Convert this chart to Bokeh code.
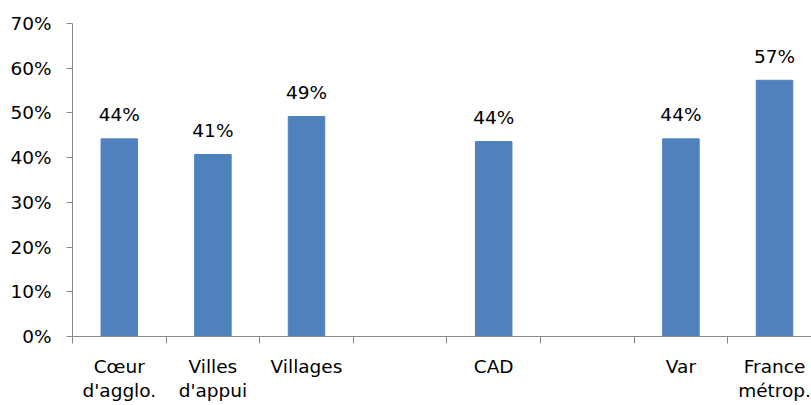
from bokeh.plotting import figure
from bokeh.models import Range1d, FixedTicker, ColumnDataSource, LinearAxis
from bokeh.embed import file_html
from bokeh.resources import INLINE
from bokeh.core.properties import value

categories = ["Cœur\nd'agglo.", "Villes\nd'appui", "Villages", "", "CAD", "", "Var", "France\nmétrop."]
values = [0.442, 0.407, 0.492, None, 0.436, None, 0.442, 0.573]
y_ticks = [0, 0.1, 0.2, 0.3, 0.4, 0.5, 0.6, 0.7]

FONT = "DejaVu Sans"
FS = "18.5px"
BAR = "#4F81BD"
GRID = "#878787"
TXT = "#000000"

xs, tops, labels = [], [], []
for i, v in enumerate(values):
    if v is not None:
        xs.append(i + 0.5)
        tops.append(v)
        labels.append(f"{round(v * 100)}%")
src = ColumnDataSource(dict(x=xs, top=tops, label=labels))

p = figure(width=811, height=405, output_backend="svg", toolbar_location=None,
           x_range=Range1d(0, 7.895), y_range=Range1d(0, 0.7),
           min_border_left=72, min_border_right=0, min_border_top=23, min_border_bottom=69,
           x_axis_type=None, y_axis_type=None)
p.outline_line_color = None
p.background_fill_color = "white"

p.vbar(x="x", top="top", bottom=0, width=0.39, source=src, fill_color=BAR, line_color=BAR)
p.text(x="x", y="top", text="label", source=src, text_align="center", text_baseline="alphabetic",
       y_offset=-24, text_font=value(FONT), text_font_size=FS, text_color=TXT)

# y axis
yax = LinearAxis(ticker=FixedTicker(ticks=y_ticks))
yax.major_label_overrides = {t: f"{round(t * 100)}%" for t in y_ticks}
yax.major_label_text_font = FONT
yax.major_label_text_font_size = FS
yax.major_label_text_color = TXT
yax.major_label_standoff = 15
yax.axis_line_color = GRID
yax.major_tick_line_color = GRID
yax.major_tick_out = 6
yax.major_tick_in = 0
yax.minor_tick_line_color = None
p.add_layout(yax, "left")

# x axis: labels at centers, tick marks at category boundaries (minor ticks)
centers = [i + 0.5 for i in range(len(categories))]
xax = LinearAxis(ticker=FixedTicker(ticks=centers, minor_ticks=list(range(len(categories) + 1))))
xax.major_label_overrides = {c: lab for c, lab in zip(centers, categories)}
xax.major_label_text_font = FONT
xax.major_label_text_font_size = FS
xax.major_label_text_color = TXT
xax.major_label_standoff = 12
xax.major_label_text_line_height = 1.16
xax.axis_line_color = GRID
xax.major_tick_line_color = None
xax.minor_tick_line_color = GRID
xax.minor_tick_out = 7
xax.minor_tick_in = 0
p.add_layout(xax, "below")

p.ygrid.ticker = FixedTicker(ticks=y_ticks)
p.ygrid.grid_line_color = GRID
p.xgrid.grid_line_color = None

open("out.html", "w").write(file_html(p, INLINE))
